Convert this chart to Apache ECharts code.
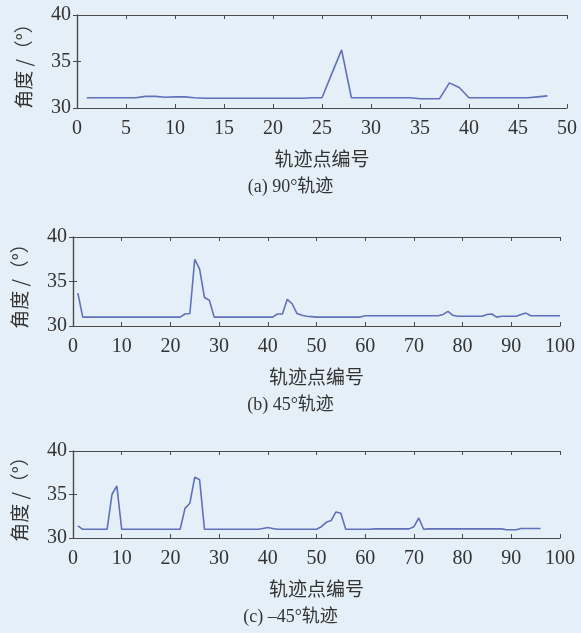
<!DOCTYPE html>
<html>
<head>
<meta charset="utf-8">
<script src="https://cdn.jsdelivr.net/npm/echarts@6/dist/echarts.min.js"></script>
<style>
html, body { margin: 0; padding: 0; background: #e5eff7; }
#chart { width: 581px; height: 633px; }
</style>
</head>
<body>
<div id="chart"></div>
<script>
// angle values per trajectory point (point number = position + 1)
var angle90 = [
    31.1, 31.1, 31.1, 31.1, 31.1, 31.1, 31.25, 31.25, 31.15, 31.2,
    31.2, 31.1, 31.05, 31.05, 31.05, 31.05, 31.05, 31.05, 31.05, 31.05,
    31.05, 31.05, 31.05, 31.1, 31.1, 33.7, 36.25, 31.1, 31.1, 31.1,
    31.1, 31.1, 31.1, 31.1, 31.0, 31.0, 31.0, 32.7, 32.2, 31.1,
    31.1, 31.1, 31.1, 31.1, 31.1, 31.1, 31.2, 31.3
];
var angle45 = [
    33.7, 31.0, 31.0, 31.0, 31.0, 31.0, 31.0, 31.0, 31.0, 31.0,
    31.0, 31.0, 31.0, 31.0, 31.0, 31.0, 31.0, 31.0, 31.0, 31.0,
    31.0, 31.0, 31.35, 31.4, 37.5, 36.4, 33.2, 32.9, 31.0, 31.0,
    31.0, 31.0, 31.0, 31.0, 31.0, 31.0, 31.0, 31.0, 31.0, 31.0,
    31.0, 31.35, 31.35, 33.0, 32.5, 31.4, 31.2, 31.1, 31.05, 31.0,
    31.0, 31.0, 31.0, 31.0, 31.0, 31.0, 31.0, 31.0, 31.0, 31.15,
    31.15, 31.15, 31.15, 31.15, 31.15, 31.15, 31.15, 31.15, 31.15, 31.15,
    31.15, 31.15, 31.15, 31.15, 31.15, 31.3, 31.65, 31.2, 31.1, 31.1,
    31.1, 31.1, 31.1, 31.1, 31.3, 31.35, 31.0, 31.1, 31.1, 31.1,
    31.1, 31.3, 31.45, 31.15, 31.15, 31.15, 31.15, 31.15, 31.15, 31.15
];
var angleNeg45 = [
    31.4, 31.0, 31.0, 31.0, 31.0, 31.0, 31.0, 35.0, 36.0, 31.0,
    31.0, 31.0, 31.0, 31.0, 31.0, 31.0, 31.0, 31.0, 31.0, 31.0,
    31.0, 31.0, 33.4, 34.0, 37.0, 36.7, 31.0, 31.0, 31.0, 31.0,
    31.0, 31.0, 31.0, 31.0, 31.0, 31.0, 31.0, 31.0, 31.1, 31.2,
    31.1, 31.0, 31.0, 31.0, 31.0, 31.0, 31.0, 31.0, 31.0, 31.0,
    31.3, 31.8, 32.0, 33.0, 32.85, 31.0, 31.0, 31.0, 31.0, 31.0,
    31.0, 31.05, 31.05, 31.05, 31.05, 31.05, 31.05, 31.05, 31.05, 31.3,
    32.3, 31.0, 31.05, 31.05, 31.05, 31.05, 31.05, 31.05, 31.05, 31.05,
    31.05, 31.05, 31.05, 31.05, 31.05, 31.05, 31.05, 31.05, 30.95, 30.95,
    30.95, 31.1, 31.1, 31.1, 31.1, 31.1
];

var captions = ['(a) 90°轨迹', '(b) 45°轨迹', '(c) –45°轨迹'];
var xMax = [50, 100, 100];
var xStep = [5, 10, 10];
var yTicks = [30, 35, 40];

var seriesData = [angle90, angle45, angleNeg45];
var grids = [
    { left: 77, right: 14, top: 15, height: 93 },
    { left: 73, right: 21, top: 237, height: 89 },
    { left: 73, right: 21, top: 451, height: 87 }
];

var numFont = '"Liberation Serif", "Noto Sans CJK SC", serif';
var cjkFont = '"Noto Sans CJK SC", "Liberation Serif", serif';
var textColor = '#333';
var axisColor = '#4a4a4a';
var lineColor = '#6070bb';

var chart = echarts.init(document.getElementById('chart'));

var xAxes = [], yAxes = [], series = [], titles = [];
grids.forEach(function (g, i) {
    var line = { show: true, lineStyle: { color: axisColor, width: 1.2 } };
    var tick = { show: true, inside: true, length: 4, lineStyle: { color: axisColor } };
    // bottom x axis with labels
    xAxes.push({
        type: 'value', gridIndex: i, position: 'bottom',
        min: 0, max: xMax[i], interval: xStep[i],
        name: '轨迹点编号', nameLocation: 'middle', nameGap: 41,
        nameTextStyle: { fontFamily: cjkFont, fontSize: 19, color: textColor },
        axisLine: line, axisTick: tick, splitLine: { show: false },
        axisLabel: { margin: 11, fontFamily: numFont, fontSize: 20, color: textColor }
    });
    // top mirror axis (box + ticks)
    xAxes.push({
        type: 'value', gridIndex: i, position: 'top',
        min: 0, max: xMax[i], interval: xStep[i],
        axisLine: line, axisTick: tick, splitLine: { show: false },
        axisLabel: { show: false }
    });
    yAxes.push({
        type: 'value', gridIndex: i, position: 'left',
        min: yTicks[0], max: yTicks[2], interval: 5,
        name: '角度 /（°）', nameLocation: 'middle', nameGap: 44, nameRotate: 90,
        nameTextStyle: { fontFamily: cjkFont, fontSize: 19, color: textColor },
        axisLine: line, axisTick: tick, splitLine: { show: false },
        axisLabel: { margin: 6, fontFamily: numFont, fontSize: 20, color: textColor }
    });
    yAxes.push({
        type: 'value', gridIndex: i, position: 'right',
        min: yTicks[0], max: yTicks[2], interval: 5,
        axisLine: line, axisTick: tick, splitLine: { show: false },
        axisLabel: { show: false }
    });
    series.push({
        type: 'line',
        xAxisIndex: i * 2, yAxisIndex: i * 2,
        showSymbol: false, symbol: 'none',
        lineStyle: { color: lineColor, width: 1.6 },
        data: seriesData[i].map(function (v, k) { return [k + 1, v]; })
    });
    titles.push({
        text: captions[i], left: 'center',
        top: g.top + g.height + 70, padding: 0,
        textStyle: { fontFamily: numFont, fontSize: 18, fontWeight: 'normal', color: textColor }
    });
});

chart.setOption({
    backgroundColor: '#e5eff7',
    animation: false,
    title: titles,
    grid: grids,
    xAxis: xAxes,
    yAxis: yAxes,
    series: series
});
</script>
</body>
</html>
